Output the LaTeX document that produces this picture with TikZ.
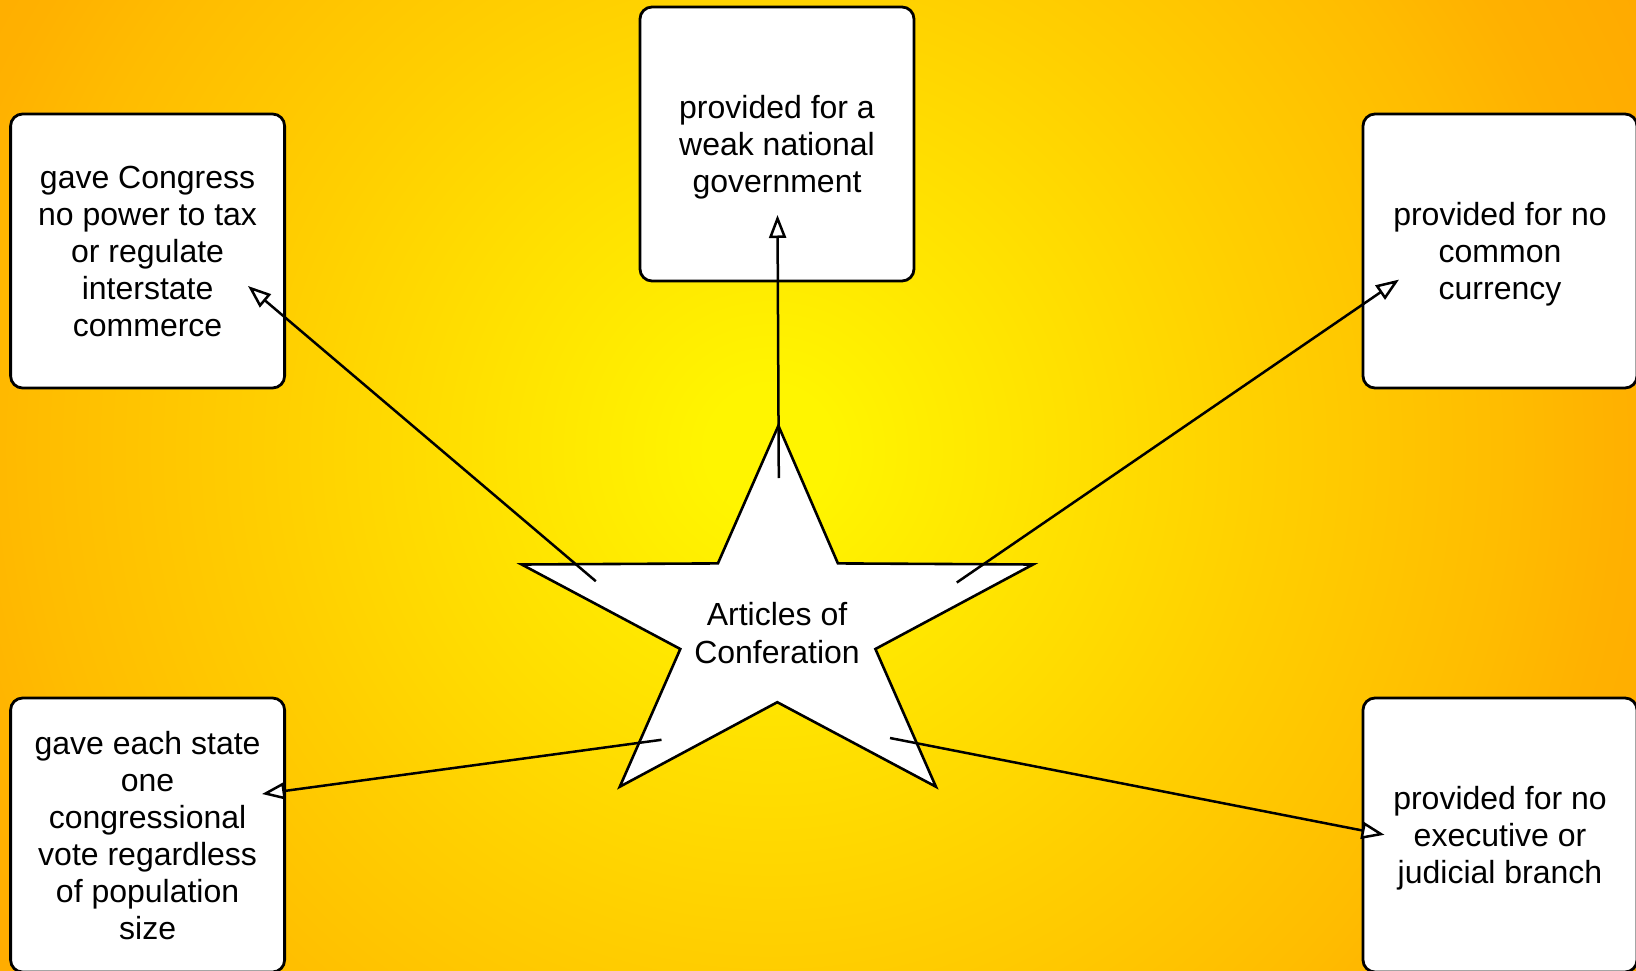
\documentclass[tikz,border=0pt]{standalone}
\usepackage{fontspec}
\setmainfont{Liberation Sans}
\usetikzlibrary{arrows.meta}
\definecolor{gA}{HTML}{FFF500}
\definecolor{gB}{HTML}{FFCF00}
\definecolor{gC}{HTML}{FFBC00}
\definecolor{gD}{HTML}{FFB100}
\definecolor{gE}{HTML}{FFA600}
\pgfdeclareradialshading{bgshade}{\pgfpoint{0bp}{0bp}}{color(0bp)=(gA); color(1.5bp)=(gA); color(11.9bp)=(gB); color(17.6bp)=(gC); color(20.2bp)=(gD); color(25bp)=(gE); color(50bp)=(gE)}
\begin{document}
\begin{tikzpicture}[x=1pt,y=-1pt,
  box/.style={draw=black, line width=2.8pt, fill=white, rounded corners=12pt,
    minimum width=274pt, minimum height=274pt, align=center,
    font=\fontsize{32}{37}\selectfont, inner sep=0pt, text depth=0pt},
  startext/.style={align=center, font=\fontsize{32}{38.5}\selectfont, inner sep=0pt},
  starline/.style={draw=black, line width=2.6pt, fill=white, line join=miter},
  conn/.style={line width=2.5pt, -{Triangle[fill=white, length=23pt, width=17pt]}}]
\useasboundingbox (0,0) rectangle (1636,971);
\begin{scope}
\clip (0,0) rectangle (1636,971);
\shade[shading=bgshade] (-280,-600) rectangle (1820,1500);
\end{scope}
% boxes
\node[box] (top) at (777,144) {provided for a\\weak national\\government};
\node[box] (lt) at (147.6,251) {gave Congress\\no power to tax\\or regulate\\interstate\\commerce};
\node[box] (rt) at (1500,251) {provided for no\\common\\currency};
\node[box] (lb) at (147.6,835) {gave each state\\one\\congressional\\vote regardless\\of population\\size};
\node[box] (rb) at (1500,835) {provided for no\\executive or\\judicial branch};
% star
\path[starline] (778.4,425.7) -- (837.9,563.4) -- (1033,564.5) -- (875.4,649) -- (935.9,786.7) -- (777.3,702.2) -- (619.8,786.7) -- (680.3,649) -- (521.7,564.5) -- (717.9,563.4) -- cycle;
\node[startext] (star) at (777,633) {Articles of\\Conferation};
% connectors
\coordinate (s1) at (778.8,478); \coordinate (e1) at (777.5,215);
\coordinate (s2) at (595.8,581.2); \coordinate (e2) at (248,286);
\coordinate (s3) at (956.8,582.5); \coordinate (e3) at (1399,279.6);
\coordinate (s4) at (661.5,739.8); \coordinate (e4) at (262,794);
\coordinate (s5) at (890,738); \coordinate (e5) at (1384.5,834.8);
\draw[conn] (s1) -- (e1);
\draw[conn] (s2) -- (e2);
\draw[conn] (s3) -- (e3);
\draw[conn] (s4) -- (e4);
\draw[conn] (s5) -- (e5);
\end{tikzpicture}
\end{document}
